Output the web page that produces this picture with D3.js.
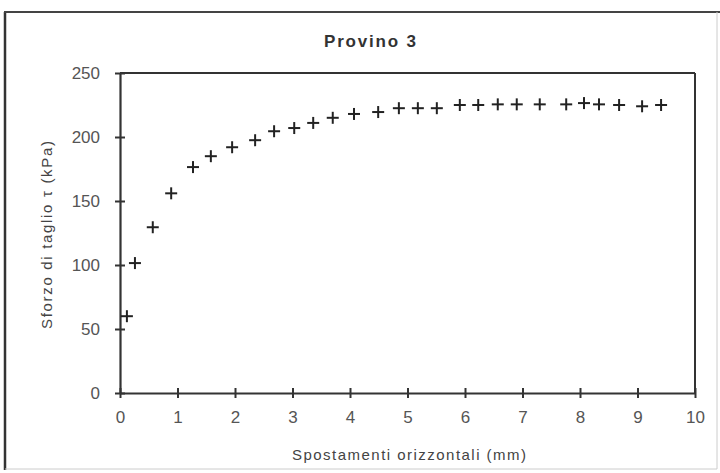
<!DOCTYPE html>
<html>
<head>
<meta charset="utf-8">
<script src="https://cdn.jsdelivr.net/npm/d3@7"></script>
<style>
  html, body { margin: 0; padding: 0; background: #fff; }
  svg { display: block; }
  text { font-family: "Liberation Sans", Arial, sans-serif; }
</style>
</head>
<body>
<svg id="chart" width="720" height="473"></svg>
<script>
// ---- data ----
const title = "Provino 3";
const xLabel = "Spostamenti orizzontali (mm)";
const yLabel = "Sforzo di taglio \u03C4 (kPa)";
const xTicks = [0, 1, 2, 3, 4, 5, 6, 7, 8, 9, 10];
const yTicks = [0, 50, 100, 150, 200, 250];
const displacement = [0.12, 0.26, 0.57, 0.89, 1.27, 1.58, 1.95, 2.35, 2.68, 3.03,
  3.36, 3.70, 4.07, 4.49, 4.85, 5.18, 5.51, 5.91, 6.23, 6.57,
  6.90, 7.30, 7.76, 8.07, 8.33, 8.68, 9.08, 9.41];
const shear = [60, 101.5, 129.5, 156, 176.5, 185, 192, 197.5, 204.5, 207,
  211, 215, 218, 219.5, 222.5, 222.5, 222.5, 225, 225, 225.5,
  225.5, 225.5, 225.5, 226.5, 225.5, 225, 224, 225];

// ---- layout ----
const svg = d3.select("#chart");
const plot = { left: 120, right: 695, top: 73, bottom: 393 };

const x = d3.scaleLinear().domain([0, 10]).range([plot.left, plot.right]);
const y = d3.scaleLinear().domain([0, 250]).range([plot.bottom, plot.top]);

// outer frame
svg.append("line").attr("x1", 5).attr("y1", 12).attr("x2", 5).attr("y2", 470)
  .attr("stroke", "#333").attr("stroke-width", 2.5);
svg.append("line").attr("x1", 4).attr("y1", 12).attr("x2", 720).attr("y2", 12)
  .attr("stroke", "#444").attr("stroke-width", 2);
svg.append("line").attr("x1", 717).attr("y1", 12).attr("x2", 717).attr("y2", 469)
  .attr("stroke", "#ccc").attr("stroke-width", 1);
svg.append("line").attr("x1", 5).attr("y1", 469).attr("x2", 717).attr("y2", 469)
  .attr("stroke", "#ccc").attr("stroke-width", 1);

// plot frame (top & right)
svg.append("line").attr("x1", plot.left).attr("y1", plot.top).attr("x2", plot.right).attr("y2", plot.top)
  .attr("stroke", "#333").attr("stroke-width", 2);
svg.append("line").attr("x1", plot.right).attr("y1", plot.top).attr("x2", plot.right).attr("y2", plot.bottom)
  .attr("stroke", "#333").attr("stroke-width", 2);

// axes
const xAxis = d3.axisBottom(x).tickValues(xTicks).tickFormat(d3.format("d"))
  .tickSizeInner(5).tickSizeOuter(0).tickPadding(13);
const gx = svg.append("g").attr("transform", `translate(0,${plot.bottom})`).call(xAxis);
gx.select(".domain").attr("stroke", "#333").attr("stroke-width", 2.2);
gx.selectAll(".tick line").attr("y1", -5).attr("stroke", "#333").attr("stroke-width", 2);
gx.selectAll(".tick text").attr("fill", "#555").style("font-size", "17px")
  .style("font-family", "'Liberation Sans', Arial, sans-serif");

const yAxis = d3.axisLeft(y).tickValues(yTicks).tickFormat(d3.format("d"))
  .tickSizeInner(5).tickSizeOuter(0).tickPadding(15);
const gy = svg.append("g").attr("transform", `translate(${plot.left},0)`).call(yAxis);
gy.select(".domain").attr("stroke", "#333").attr("stroke-width", 2.2);
gy.selectAll(".tick line").attr("x1", 5).attr("stroke", "#333").attr("stroke-width", 2);
gy.selectAll(".tick text").attr("fill", "#555").style("font-size", "17px")
  .style("font-family", "'Liberation Sans', Arial, sans-serif");

// title
svg.append("text").attr("x", 370).attr("y", 47).attr("text-anchor", "middle")
  .attr("fill", "#333").style("font-size", "17px").style("font-weight", "bold")
  .attr("textLength", 92).attr("lengthAdjust", "spacing")
  .text(title);

// axis titles
svg.append("text").attr("x", 409).attr("y", 460).attr("text-anchor", "middle")
  .attr("fill", "#444").style("font-size", "15px")
  .attr("textLength", 234).attr("lengthAdjust", "spacing").text(xLabel);
svg.append("text").attr("transform", "translate(52,235) rotate(-90)")
  .attr("text-anchor", "middle").attr("fill", "#444").style("font-size", "15px")
  .attr("textLength", 188).attr("lengthAdjust", "spacing").text(yLabel);

// markers (plus signs)
const pts = displacement.map((d, i) => [d, shear[i]]);
const arm = 6;
const g = svg.append("g");
pts.forEach(([dx, dy]) => {
  const cx = x(dx), cy = y(dy);
  g.append("line").attr("x1", cx - arm).attr("x2", cx + arm).attr("y1", cy).attr("y2", cy)
    .attr("stroke", "#222").attr("stroke-width", 2);
  g.append("line").attr("x1", cx).attr("x2", cx).attr("y1", cy - arm).attr("y2", cy + arm)
    .attr("stroke", "#222").attr("stroke-width", 2);
});
</script>
</body>
</html>
